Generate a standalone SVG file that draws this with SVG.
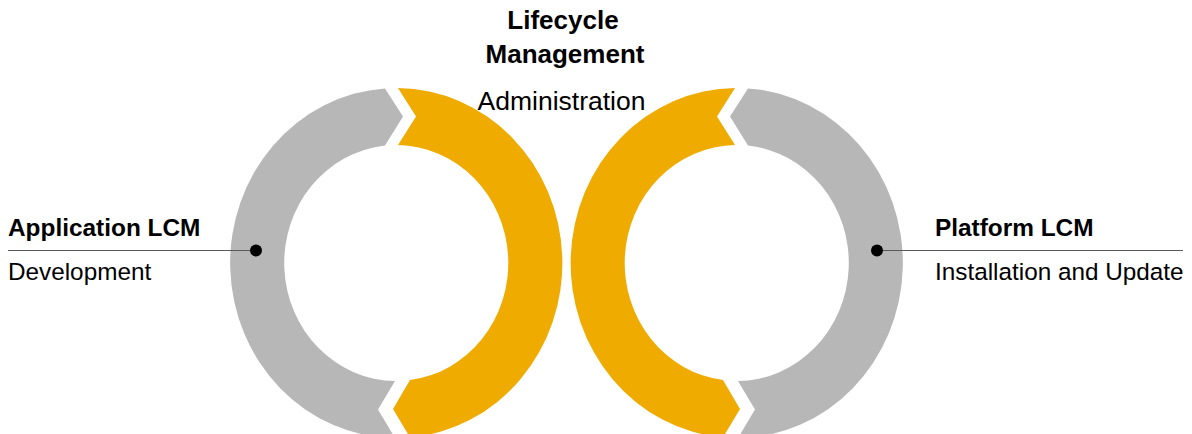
<svg xmlns="http://www.w3.org/2000/svg" width="1192" height="434" viewBox="0 0 1192 434">
  <style>
    .gray { fill: #B7B7B7; }
    .gold { fill: #F0AB00; }
    .title { font-family: "Liberation Sans", Arial, sans-serif; font-weight: bold; font-size: 26px; fill: #000; }
    .sub26 { font-family: "Liberation Sans", Arial, sans-serif; font-size: 26.5px; fill: #000; }
    .head { font-family: "Liberation Sans", Arial, sans-serif; font-weight: bold; font-size: 24.4px; fill: #000; }
    .sub { font-family: "Liberation Sans", Arial, sans-serif; font-size: 24.3px; fill: #000; }
    .leader { stroke: #595959; stroke-width: 1.2; fill: none; }
    .dot { fill: #000; }
  </style>
  <rect width="1192" height="434" fill="#FFFFFF"/>

  <g id="ring-left">
    <path class="gray" d="M395,438 A166,175 0 0 1 385,88.4 L403,116.5 L385,145.6 A112,118 0 0 0 395,381 L378,409.5 Z"/>
    <path class="gold" d="M398,88 A166,175 0 0 1 410,437.4 L393,409 L410,380.1 A112,118 0 0 0 398,145 L416,116.5 Z"/>
  </g>

  <g id="ring-right">
    <path class="gray" d="M738,438 A166,175 0 0 0 748,88.4 L730,116.5 L748,145.6 A112,118 0 0 1 738,381 L755,409.5 Z"/>
    <path class="gold" d="M735,88 A166,175 0 0 0 723,437.4 L740,409 L723,380.1 A112,118 0 0 1 735,145 L717,116.5 Z"/>
  </g>

  <g id="label-lifecycle">
    <text class="title" x="563" y="29" text-anchor="middle">Lifecycle</text>
    <text class="title" x="565" y="63" text-anchor="middle">Management</text>
    <text class="sub26" x="561.5" y="110" text-anchor="middle">Administration</text>
  </g>

  <g id="label-application">
    <text class="head" x="8" y="236">Application LCM</text>
    <text class="sub" x="8" y="280">Development</text>
  </g>

  <g id="label-platform">
    <text class="head" x="935" y="236">Platform LCM</text>
    <text class="sub" x="935" y="280">Installation and Update</text>
  </g>

  <g id="connectors">
    <line class="leader" x1="8" y1="250.5" x2="256" y2="250.5"/>
    <circle class="dot" cx="256" cy="250.5" r="6"/>
    <line class="leader" x1="877" y1="250.5" x2="1183" y2="250.5"/>
    <circle class="dot" cx="877" cy="250.5" r="6"/>
  </g>
</svg>
